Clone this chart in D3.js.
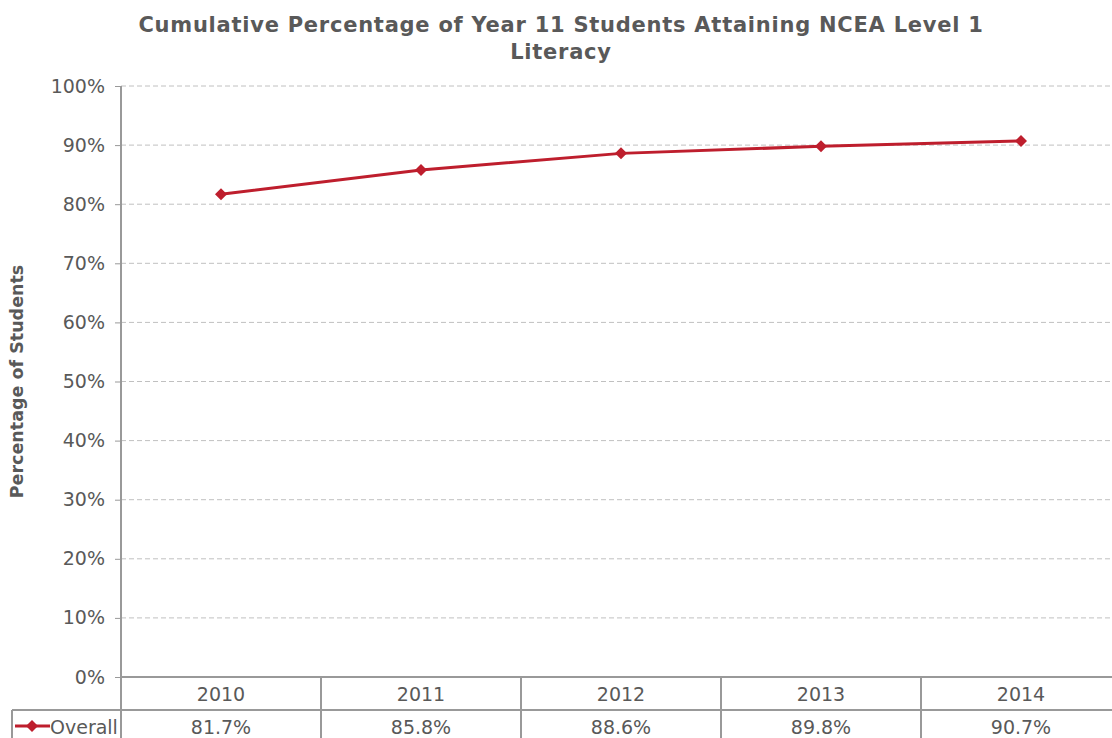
<!DOCTYPE html>
<html>
<head>
<meta charset="utf-8">
<script src="https://cdn.jsdelivr.net/npm/d3@7"></script>
<style>
  body { margin: 0; background: #fff; }
  text { font-family: "DejaVu Sans", Verdana, sans-serif; fill: #595959; }
</style>
</head>
<body>
<div id="chart"></div>
<script>
// chart data
const years = ["2010", "2011", "2012", "2013", "2014"];
const overall = [81.7, 85.8, 88.6, 89.8, 90.7];
const yTicks = [0, 10, 20, 30, 40, 50, 60, 70, 80, 90, 100];
const seriesName = "Overall";

const width = 1112, height = 738;
const margin = {top: 86, right: -9, bottom: 61, left: 121};
const red = "#be1e2d";
const axisGrey = "#999";
const fs = "19px";

const svg = d3.select("#chart")
  .append("svg")
  .attr("width", width)
  .attr("height", height);

let xScale = d3.scaleBand()
  .domain(years)
  .range([margin.left, width - margin.right]);

let yScale = d3.scaleLinear()
  .domain([0, 100])
  .range([height - margin.bottom, margin.top]);

const plotBottom = yScale(0);

// diamond marker: a square turned 45 degrees
const diamond = r => `M0,${-r}L${r},0L0,${r}L${-r},0Z`;

// gridlines
svg.append("g")
  .selectAll("line")
  .data(yTicks.filter(d => d > 0))
  .enter()
  .append("line")
  .attr("x1", margin.left)
  .attr("x2", width)
  .attr("y1", d => yScale(d))
  .attr("y2", d => yScale(d))
  .attr("stroke", "#c0c0c0")
  .attr("stroke-width", 1)
  .attr("stroke-dasharray", "5,3");

// y axis
const yAxis = svg.append("g")
  .attr("transform", `translate(${margin.left},0)`)
  .call(d3.axisLeft(yScale).tickValues(yTicks).tickFormat(d => d + "%").tickSize(6).tickPadding(10));
yAxis.select(".domain").remove();
yAxis.selectAll(".tick line").attr("stroke", axisGrey);
yAxis.selectAll(".tick text")
  .attr("font-size", fs)
  .attr("fill", "#595959")
  .style("font-family", "'DejaVu Sans', Verdana, sans-serif");

svg.append("line")
  .attr("x1", margin.left).attr("x2", margin.left)
  .attr("y1", margin.top).attr("y2", height)
  .attr("stroke", axisGrey).attr("stroke-width", 2);

// data table under the axis
const rowH = 33;
const table = svg.append("g");
table.append("line")
  .attr("x1", margin.left).attr("x2", width)
  .attr("y1", plotBottom).attr("y2", plotBottom)
  .attr("stroke", axisGrey).attr("stroke-width", 2);
table.append("line")
  .attr("x1", 12).attr("x2", width)
  .attr("y1", plotBottom + rowH).attr("y2", plotBottom + rowH)
  .attr("stroke", axisGrey).attr("stroke-width", 2);
table.append("line")
  .attr("x1", 12).attr("x2", 12)
  .attr("y1", plotBottom + rowH).attr("y2", height)
  .attr("stroke", axisGrey).attr("stroke-width", 2);
table.selectAll(".sep")
  .data(years.slice(1))
  .enter()
  .append("line")
  .attr("class", "sep")
  .attr("x1", d => xScale(d)).attr("x2", d => xScale(d))
  .attr("y1", plotBottom).attr("y2", height)
  .attr("stroke", axisGrey).attr("stroke-width", 2);

table.selectAll(".yr")
  .data(years)
  .enter()
  .append("text")
  .attr("class", "yr")
  .attr("x", d => xScale(d) + xScale.bandwidth() / 2)
  .attr("y", plotBottom + 24)
  .attr("text-anchor", "middle")
  .attr("font-size", fs)
  .text(d => d);

table.selectAll(".val")
  .data(overall)
  .enter()
  .append("text")
  .attr("class", "val")
  .attr("x", (d, i) => xScale(years[i]) + xScale.bandwidth() / 2)
  .attr("y", plotBottom + rowH + 24)
  .attr("text-anchor", "middle")
  .attr("font-size", fs)
  .text(d => d.toFixed(1) + "%");

// legend key in the table
const ky = plotBottom + rowH + 16;
table.append("line")
  .attr("x1", 15).attr("x2", 50)
  .attr("y1", ky).attr("y2", ky)
  .attr("stroke", red).attr("stroke-width", 3);
table.append("path")
  .attr("d", diamond(6))
  .attr("transform", `translate(32,${ky})`)
  .attr("fill", red);
table.append("text")
  .attr("x", 50)
  .attr("y", plotBottom + rowH + 24)
  .attr("font-size", fs)
  .text(seriesName);

// line + markers
const cx = (d, i) => xScale(years[i]) + xScale.bandwidth() / 2;
svg.append("path")
  .datum(overall)
  .attr("fill", "none")
  .attr("stroke", red)
  .attr("stroke-width", 3)
  .attr("d", d3.line().x(cx).y(d => yScale(d)));

svg.selectAll(".pt")
  .data(overall)
  .enter()
  .append("path")
  .attr("class", "pt")
  .attr("d", diamond(6))
  .attr("transform", (d, i) => `translate(${cx(d, i)},${yScale(d)})`)
  .attr("fill", red);

// title
const title = svg.append("text")
  .attr("x", 561)
  .attr("y", 32)
  .attr("text-anchor", "middle")
  .attr("font-size", "21px")
  .attr("letter-spacing", "0.75px")
  .attr("font-weight", "bold");
title.append("tspan").attr("x", 561).text("Cumulative Percentage of Year 11 Students Attaining NCEA Level 1");
title.append("tspan").attr("x", 561).attr("dy", 27).text("Literacy");

// y label
svg.append("text")
  .attr("transform", `translate(23,${(margin.top + plotBottom) / 2}) rotate(-90)`)
  .attr("text-anchor", "middle")
  .attr("font-size", "17.5px")
  .attr("font-weight", "bold")
  .text("Percentage of Students");
</script>
</body>
</html>
